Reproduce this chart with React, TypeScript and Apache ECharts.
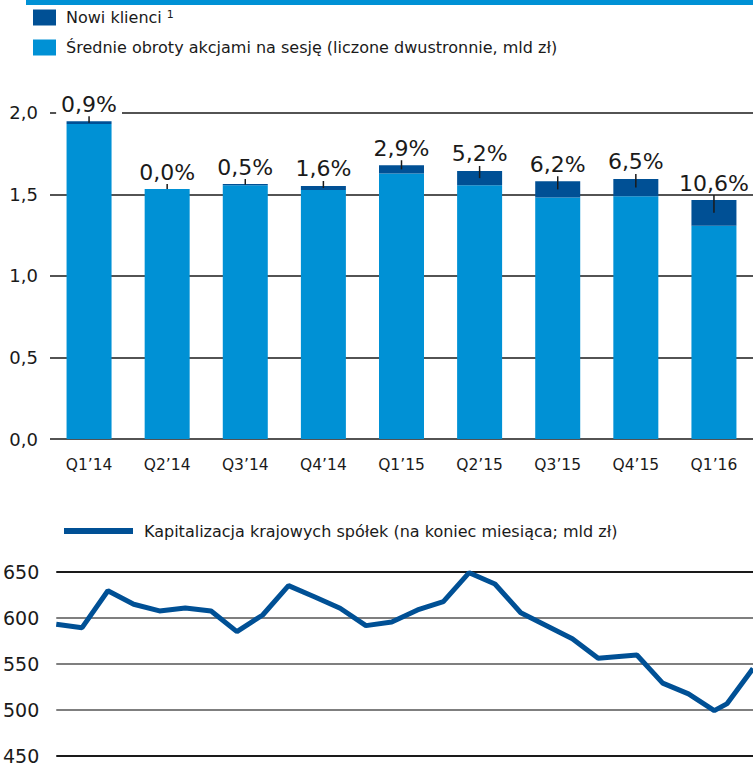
import React, { useEffect, useRef } from "react";
import * as echarts from "echarts";

// ---- Bar chart data ----
const categories = ["Q1’14", "Q2’14", "Q3’14", "Q4’14", "Q1’15", "Q2’15", "Q3’15", "Q4’15", "Q1’16"];
const turnoverValues = [1.93, 1.532, 1.555, 1.526, 1.628, 1.555, 1.48, 1.488, 1.308];
const newClientValues = [0.018, 0, 0.008, 0.025, 0.05, 0.088, 0.1, 0.106, 0.157];
const newClientLabels = ["0,9%", "0,0%", "0,5%", "1,6%", "2,9%", "5,2%", "6,2%", "6,5%", "10,6%"];

// ---- Line chart data (month position, capitalisation bn PLN) ----
const capPositions = [0, 1, 2, 3, 4, 5, 6, 7, 8, 9, 10, 11, 12, 13, 14, 15, 16, 17, 18, 19, 20, 21, 22.5, 23.5, 24.5, 25.5, 26, 27];
const capValues = [592.8, 589.1, 629.3, 614.6, 607.3, 610.5, 607.3, 584.8, 602.9, 634.8, 622.8, 610.2, 591.3, 595.3, 608.4, 617.4, 648.9, 636.6, 605.3, 591.2, 577.1, 555.9, 559.4, 528.7, 517.1, 498.8, 506.5, 544.6];

const SERIES_NEW = "Nowi klienci";
const SERIES_TURN = "Średnie obroty akcjami na sesję (liczone dwustronnie, mld zł)";
const SERIES_CAP = "Kapitalizacja krajowych spółek (na koniec miesiąca; mld zł)";

const FONT = "'DejaVu Sans', Verdana, sans-serif";
const LIGHT = "#0091d5";
const DARK = "#005095";
const TEXT = "#1a1a1a";

export default function App() {
  const ref = useRef<HTMLDivElement>(null);
  useEffect(() => {
    if (!ref.current) return;
    const chart = echarts.init(ref.current, null, { renderer: "svg" });
    const fmtComma = (v: number) => v.toFixed(1).replace(".", ",");
    chart.setOption({
      animation: false,
      backgroundColor: "#fff",
      textStyle: { fontFamily: FONT },
      graphic: [
        { type: "rect", shape: { x: 26, y: 0, width: 727, height: 5 }, style: { fill: LIGHT }, silent: true },
      ],
      legend: [
        {
          orient: "vertical",
          left: 33,
          top: 9,
          padding: 0,
          itemWidth: 23,
          itemHeight: 16,
          itemGap: 14,
          icon: "rect",
          selectedMode: false,
          data: [SERIES_NEW, SERIES_TURN],
          formatter: (name: string) => (name === SERIES_NEW ? "{t|" + name + "}{s|1}" : "{t|" + name + "}"),
          textStyle: {
            color: TEXT,
            fontFamily: FONT,
            fontSize: 16,
            rich: {
              t: { fontSize: 16, fontFamily: FONT, color: TEXT, padding: [0, 0, 0, 5] },
              s: { fontSize: 11, fontFamily: FONT, color: TEXT, verticalAlign: "top", padding: [0, 0, 6, 5] },
            },
          },
        },
        {
          left: 64,
          top: 523,
          padding: 0,
          itemWidth: 69,
          itemHeight: 6,
          icon: "rect",
          selectedMode: false,
          data: [SERIES_CAP],
          textStyle: { color: TEXT, fontFamily: FONT, fontSize: 16, padding: [0, 0, 0, 6] },
        },
      ],
      grid: [
        { left: 50, right: 0, top: 112.7, height: 326.4 },
        { left: 50, right: 0, top: 571.7, height: 187.3 },
      ],
      xAxis: [
        {
          type: "category",
          gridIndex: 0,
          data: categories,
          axisLine: { show: false },
          axisTick: { show: false },
          axisLabel: { margin: 18, fontSize: 15.5, fontFamily: FONT, color: TEXT },
        },
        {
          type: "value",
          gridIndex: 1,
          min: 0,
          max: 27,
          show: false,
        },
      ],
      yAxis: [
        {
          type: "value",
          gridIndex: 0,
          min: 0,
          max: 2,
          interval: 0.5,
          axisLine: { show: false },
          axisTick: { show: false },
          axisLabel: { margin: 12, fontSize: 18, fontFamily: FONT, color: TEXT, formatter: fmtComma },
          splitLine: { lineStyle: { color: TEXT, width: 1.5 } },
        },
        {
          type: "value",
          gridIndex: 1,
          min: 450,
          max: 650,
          interval: 50,
          axisLine: { show: false },
          axisTick: { show: false },
          axisLabel: { margin: 17, fontSize: 19, fontFamily: FONT, color: TEXT },
          splitLine: {
            lineStyle: { color: [TEXT, "#7f7f7f", "#7f7f7f", "#7f7f7f", TEXT], width: 2 },
          },
        },
      ],
      series: [
        {
          name: SERIES_TURN,
          type: "bar",
          stack: "a",
          xAxisIndex: 0,
          yAxisIndex: 0,
          barWidth: 45,
          itemStyle: { color: LIGHT },
          data: turnoverValues,
        },
        {
          name: SERIES_NEW,
          type: "bar",
          stack: "a",
          xAxisIndex: 0,
          yAxisIndex: 0,
          barWidth: 45,
          itemStyle: { color: DARK },
          data: newClientValues,
          label: {
            show: true,
            position: "top",
            distance: 6,
            formatter: (p: any) => newClientLabels[p.dataIndex],
            fontSize: 22,
            fontFamily: FONT,
            color: TEXT,
            backgroundColor: "#fff",
            padding: [0, 5],
          },
        },
        {
          type: "custom",
          xAxisIndex: 0,
          yAxisIndex: 0,
          z: 5,
          silent: true,
          encode: { x: 0, y: 1 },
          data: categories.map((_, i) => [i, turnoverValues[i], newClientValues[i]]),
          renderItem: (params: any, api: any) => {
            const i = api.value(0);
            const light = api.value(1);
            const dark = api.value(2);
            const top = api.coord([i, light + dark]);
            const mid = api.coord([i, light + dark / 2]);
            return {
              type: "line",
              shape: { x1: top[0], y1: top[1] - 5, x2: top[0], y2: mid[1] },
              style: { stroke: TEXT, lineWidth: 1.5 },
            };
          },
        },
        {
          name: SERIES_CAP,
          type: "line",
          xAxisIndex: 1,
          yAxisIndex: 1,
          symbol: "none",
          lineStyle: { color: DARK, width: 5 },
          itemStyle: { color: DARK },
          data: capPositions.map((x, i) => [x, capValues[i]]),
        },
      ],
    });
    return () => chart.dispose();
  }, []);
  return <div ref={ref} style={{ position: "fixed", left: 0, top: 0, width: 753, height: 765 }} />;
}
